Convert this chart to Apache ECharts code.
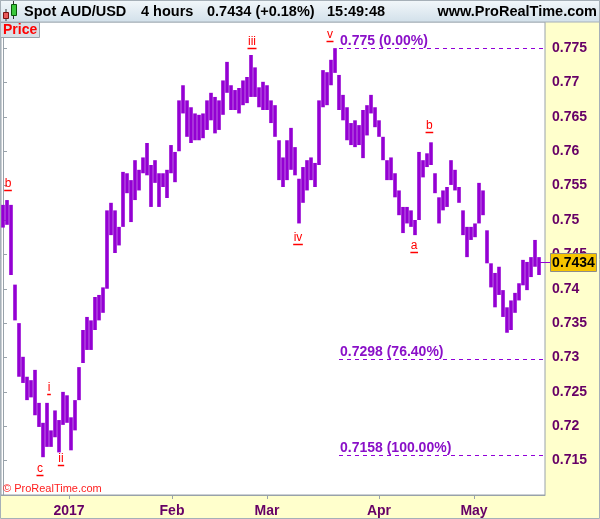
<!DOCTYPE html>
<html><head><meta charset="utf-8">
<script src="https://cdn.jsdelivr.net/npm/echarts@6/dist/echarts.min.js"></script>
<style>html,body{margin:0;padding:0;background:#ffffcc}#c{width:600px;height:519px}</style>
</head><body><div id="c"></div><script>
// 4-hour AUD/USD bars, grouped (high / low per bar)
const highs = [0.7522,0.7529,0.7522,0.7406,0.7350,0.7301,0.7272,0.7267,0.7282,0.7234,
0.7205,0.7234,0.7194,0.7223,0.7209,0.7250,0.7245,0.7213,0.7238,0.7286,
0.7340,0.7359,0.7354,0.7388,0.7391,0.7402,0.7514,0.7525,0.7514,0.7490,
0.7570,0.7568,0.7558,0.7587,0.7573,0.7591,0.7612,0.7580,0.7587,0.7568,
0.7568,0.7573,0.7609,0.7599,0.7674,0.7696,0.7674,0.7664,0.7655,0.7653,
0.7655,0.7674,0.7685,0.7679,0.7674,0.7703,0.7730,0.7696,0.7689,0.7692,
0.7703,0.7708,0.7740,0.7722,0.7693,0.7701,0.7696,0.7674,0.7667,0.7616,
0.7591,0.7616,0.7634,0.7606,0.7560,0.7577,0.7587,0.7591,0.7583,0.7674,
0.7718,0.7715,0.7733,0.7750,0.7711,0.7682,0.7664,0.7641,0.7645,0.7638,
0.7660,0.7667,0.7682,0.7664,0.7645,0.7621,0.7587,0.7591,0.7568,0.7543,
0.7519,0.7519,0.7514,0.7500,0.7599,0.7587,0.7597,0.7613,0.7568,0.7533,
0.7543,0.7548,0.7587,0.7573,0.7548,0.7514,0.7490,0.7490,0.7495,0.7554,
0.7543,0.7485,0.7437,0.7423,0.7432,0.7398,0.7373,0.7383,0.7394,0.7408,
0.7442,0.7439,0.7446,0.7471,0.7446];
const lows = [0.7489,0.7493,0.7420,0.7354,0.7272,0.7263,0.7238,0.7242,0.7216,0.7199,
0.7155,0.7170,0.7170,0.7184,0.7162,0.7202,0.7205,0.7165,0.7194,0.7238,
0.7292,0.7311,0.7311,0.7340,0.7354,0.7365,0.7400,0.7478,0.7452,0.7463,
0.7490,0.7539,0.7497,0.7529,0.7543,0.7568,0.7565,0.7519,0.7554,0.7519,
0.7548,0.7532,0.7568,0.7555,0.7600,0.7655,0.7621,0.7612,0.7616,0.7616,
0.7619,0.7631,0.7645,0.7626,0.7631,0.7653,0.7685,0.7660,0.7660,0.7655,
0.7667,0.7670,0.7679,0.7679,0.7664,0.7660,0.7660,0.7641,0.7621,0.7558,
0.7548,0.7558,0.7573,0.7565,0.7495,0.7525,0.7543,0.7558,0.7548,0.7580,
0.7664,0.7667,0.7696,0.7714,0.7660,0.7645,0.7616,0.7609,0.7606,0.7609,
0.7590,0.7623,0.7655,0.7635,0.7621,0.7587,0.7558,0.7558,0.7533,0.7507,
0.7481,0.7495,0.7490,0.7478,0.7500,0.7562,0.7577,0.7580,0.7539,0.7495,
0.7514,0.7519,0.7551,0.7543,0.7525,0.7478,0.7446,0.7471,0.7475,0.7495,
0.7507,0.7437,0.7402,0.7373,0.7391,0.7359,0.7336,0.7340,0.7365,0.7383,
0.7405,0.7398,0.7417,0.7432,0.7420];

// month boundaries (bar index units) and labels
const monthLabels = ['2017','Feb','Mar','Apr','May'];
const monthPos = [16.5, 42.25, 66, 94, 117.75];

// Fibonacci levels
const fibLevels = [0.775, 0.7298, 0.7158];
const fibLabels = ['0.775 (0.00%)', '0.7298 (76.40%)', '0.7158 (100.00%)'];
const fibStart = 84;
const fibEnd = 135.5;

// Elliott wave labels
const waveText = ['b','c','i','ii','iii','iv','v','a','b'];
const waveX = [1.25, 9.25, 11.5, 14.5, 62.25, 73.75, 81.75, 102.8, 106.6];
const waveY = [0.7543, 0.7129, 0.7247, 0.7143, 0.7750, 0.7465, 0.7760, 0.7454, 0.7628];

const lastPrice = 0.7434;

const FONT = '"Liberation Sans", Arial, sans-serif';
const PURPLE = '#9400d3';
const measureCtx = document.createElement('canvas').getContext('2d');
measureCtx.font = '12px ' + FONT;

const chart = echarts.init(document.getElementById('c'), null, {renderer: 'canvas'});

const barData = highs.map((h, i) => [i, h, lows[i]]);

const graphics = [
  {type: 'rect', shape: {x: 0, y: 0, width: 600, height: 22}, style: {fill: {type: 'linear', x: 0, y: 0, x2: 0, y2: 1, colorStops: [{offset: 0, color: '#f3f8fb'}, {offset: 1, color: '#d2e0ea'}]}, stroke: '#a6b0b8', lineWidth: 1}, z: 10},
  {type: 'line', shape: {x1: 6, y1: 9, x2: 6, y2: 21}, style: {stroke: '#333', lineWidth: 1}, z: 11},
  {type: 'rect', shape: {x: 3.5, y: 12.5, width: 5, height: 6}, style: {fill: '#e85a5a', stroke: '#7a1010', lineWidth: 1}, z: 12},
  {type: 'line', shape: {x1: 13.5, y1: 1, x2: 13.5, y2: 19}, style: {stroke: '#333', lineWidth: 1}, z: 11},
  {type: 'rect', shape: {x: 11.5, y: 4.5, width: 5, height: 11}, style: {fill: '#3cc83c', stroke: '#0a5a0a', lineWidth: 1}, z: 12},
  {type: 'text', style: {text: 'Spot AUD/USD', x: 24, y: 12, fill: '#000', font: 'bold 14.5px ' + FONT, verticalAlign: 'middle'}, z: 12},
  {type: 'text', style: {text: '4 hours', x: 141, y: 12, fill: '#000', font: 'bold 14.5px ' + FONT, verticalAlign: 'middle'}, z: 12},
  {type: 'text', style: {text: '0.7434 (+0.18%)', x: 207, y: 12, fill: '#000', font: 'bold 14.5px ' + FONT, verticalAlign: 'middle'}, z: 12},
  {type: 'text', style: {text: '15:49:48', x: 327, y: 12, fill: '#000', font: 'bold 14.5px ' + FONT, verticalAlign: 'middle'}, z: 12},
  {type: 'text', style: {text: 'www.ProRealTime.com', x: 597, y: 12, fill: '#000', font: 'bold 14.5px ' + FONT, align: 'right', verticalAlign: 'middle'}, z: 12},
  {type: 'rect', shape: {x: 0.5, y: 22.5, width: 39, height: 15}, style: {fill: '#d9e0e6', stroke: '#9aa4ac', lineWidth: 1}, z: 12},
  {type: 'text', style: {text: 'Price', x: 3, y: 30.5, fill: '#ff0000', font: 'bold 14px ' + FONT, verticalAlign: 'middle'}, z: 13},
  {type: 'text', style: {text: '\u00a9 ProRealTime.com', x: 3, y: 489, fill: '#ff2020', font: '11px ' + FONT, verticalAlign: 'middle'}, z: 12},
  {type: 'rect', shape: {x: 0.5, y: 0.5, width: 599, height: 518}, style: {fill: 'none', stroke: '#a6b0b8', lineWidth: 1}, z: 20}
];

const option = {
  backgroundColor: '#ffffcc',
  animation: false,
  grid: {left: 1, top: 22, right: 55, bottom: 24, show: true, backgroundColor: '#ffffff', borderColor: '#98a2aa', borderWidth: 1},
  xAxis: {
    type: 'value', min: -0.5, max: 135.5,
    splitLine: {show: false},
    axisLine: {show: true, lineStyle: {color: '#98a2aa'}},
    axisTick: {show: true, customValues: monthPos, length: 4, lineStyle: {color: '#98a2aa'}},
    axisLabel: {
      customValues: monthPos, margin: 9,
      formatter: v => { const k = monthPos.indexOf(v); return k >= 0 ? monthLabels[k] : ''; },
      color: '#660066', fontWeight: 'bold', fontSize: 14, fontFamily: FONT
    }
  },
  yAxis: {
    type: 'value', position: 'right', min: 0.71, max: 0.7788, interval: 0.005,
    splitLine: {show: false},
    axisLine: {show: true, lineStyle: {color: '#98a2aa'}},
    axisTick: {show: true, length: 4, lineStyle: {color: '#98a2aa'}},
    axisLabel: {
      showMinLabel: false, showMaxLabel: false, margin: 7,
      formatter: v => String(+v.toFixed(3)),
      color: '#660066', fontWeight: 'bold', fontSize: 14, fontFamily: FONT
    }
  },
  series: [
    {
      type: 'custom', name: 'price', data: barData, encode: {x: 0, y: [1, 2]}, z: 3,
      renderItem: (params, api) => {
        const x = api.value(0);
        const p1 = api.coord([x, api.value(1)]);
        const p2 = api.coord([x, api.value(2)]);
        const w = api.size([1, 0])[0] * 0.9;
        return {type: 'rect', shape: {x: p1[0] - w / 2, y: p1[1], width: w, height: Math.max(1, p2[1] - p1[1])}, style: {fill: PURPLE}};
      }
    },
    {
      type: 'custom', name: 'fib', data: fibLevels.map((v, i) => [fibStart, v, i]), encode: {x: 0, y: 1}, z: 4,
      renderItem: (params, api) => {
        const lvl = api.value(1), idx = api.value(2);
        const p1 = api.coord([fibStart, lvl]);
        const p2 = api.coord([fibEnd, lvl]);
        const y = Math.round(p1[1]) + 0.5;
        return {type: 'group', children: [
          {type: 'line', shape: {x1: p1[0], y1: y, x2: p2[0], y2: y}, style: {stroke: '#9000d8', lineWidth: 1.2, lineDash: [4, 4]}},
          {type: 'text', style: {text: fibLabels[idx], x: p1[0] + 1, y: y, fill: '#8a10c8', font: 'bold 14px ' + FONT, align: 'left', verticalAlign: 'bottom'}}
        ]};
      }
    },
    {
      type: 'custom', name: 'waves', data: waveX.map((x, i) => [x, waveY[i], i]), encode: {x: 0, y: 1}, z: 5,
      renderItem: (params, api) => {
        const idx = api.value(2);
        const p = api.coord([api.value(0), api.value(1)]);
        const t = waveText[idx];
        const w = measureCtx.measureText(t).width + 1;
        const y = Math.round(p[1]) + 0.5;
        return {type: 'group', children: [
          {type: 'text', style: {text: t, x: p[0], y: y - 1, fill: '#ff0000', font: '12px ' + FONT, align: 'center', verticalAlign: 'bottom'}},
          {type: 'line', shape: {x1: p[0] - w / 2, y1: y, x2: p[0] + w / 2, y2: y}, style: {stroke: '#ff0000', lineWidth: 1.5}}
        ]};
      }
    }
  ],
  graphic: graphics
};
chart.setOption(option);

// last-price tag on the price axis
const tagY = chart.convertToPixel({yAxisIndex: 0}, lastPrice) - 3;
const tagX = chart.convertToPixel({xAxisIndex: 0}, 135.5);
graphics.push(
  {type: 'line', shape: {x1: tagX - 6, y1: Math.round(tagY) + 0.5, x2: tagX + 5, y2: Math.round(tagY) + 0.5}, style: {stroke: PURPLE, lineWidth: 1}, z: 14},
  {type: 'rect', shape: {x: tagX + 5.5, y: Math.round(tagY) - 8.5, width: 46, height: 18}, style: {fill: '#f6c400', stroke: '#8c8c8c', lineWidth: 1}, z: 15},
  {type: 'text', style: {text: String(lastPrice), x: tagX + 28.5, y: Math.round(tagY) + 1, fill: '#000', font: 'bold 14px ' + FONT, align: 'center', verticalAlign: 'middle'}, z: 16}
);
option.graphic = graphics;
chart.setOption(option, true);
</script></body></html>
